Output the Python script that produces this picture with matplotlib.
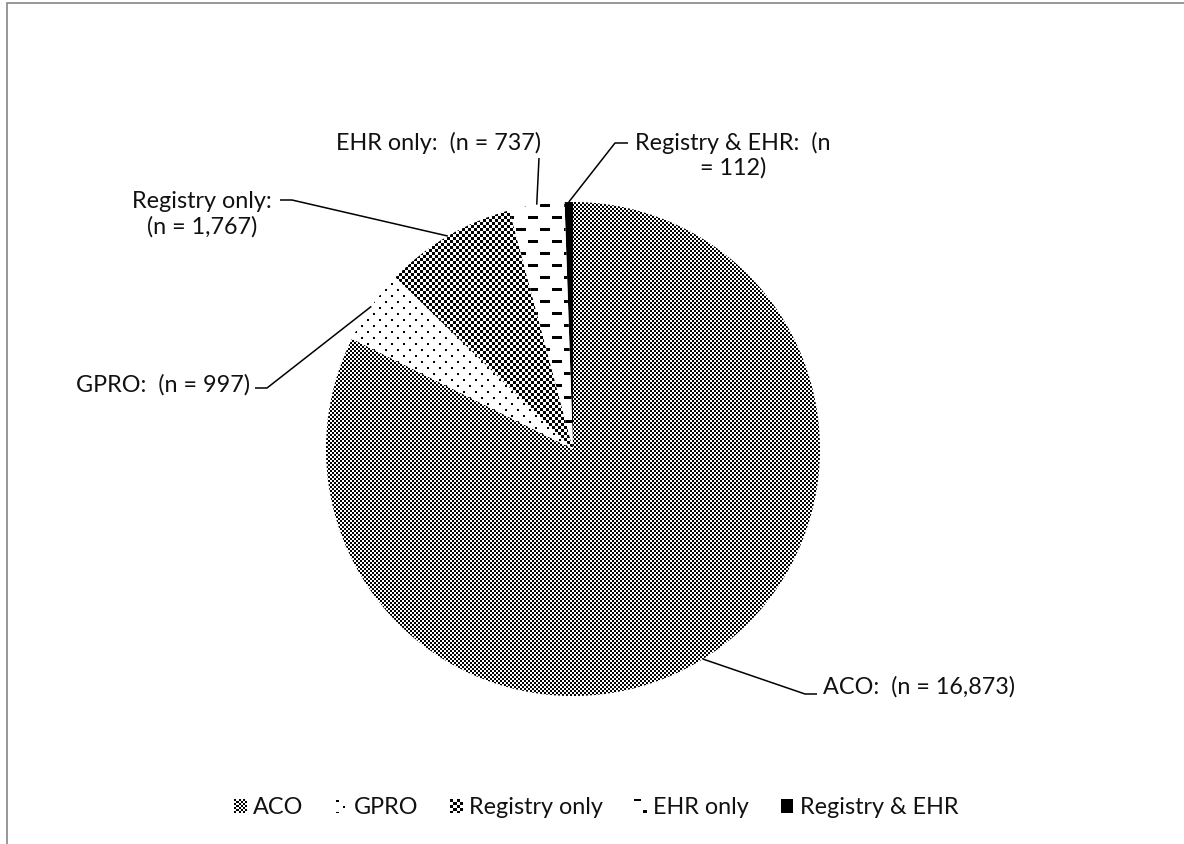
import numpy as np
import matplotlib
matplotlib.use("Agg")
import matplotlib.pyplot as plt
from matplotlib.patches import Rectangle

# Reporting mechanism counts
categories = ["ACO", "GPRO", "Registry only", "EHR only", "Registry & EHR"]
counts = [16873, 997, 1767, 737, 112]
slice_labels = [
    "ACO:  (n = 16,873)",
    "GPRO:  (n = 997)",
    "Registry only:\n(n = 1,767)",
    "EHR only:  (n = 737)",
    "Registry & EHR:  (n\n= 112)",
]

W, H = 1184, 844
FONT = "Lato"
FS = 16.8

fig = plt.figure(figsize=(W / 100, H / 100), dpi=100)
fig.suppressComposite = True
ax = fig.add_axes([0, 0, 1, 1])


def px(x, y):
    """Canvas pixel (origin top-left) -> data coordinates (origin bottom-left)."""
    return x, H - y


# ---- fill patterns (monochrome tiles repeated across the canvas) ----
def tiled(motif, row0=0, col0=0):
    m = np.asarray(motif, dtype=bool)
    reps = (H // m.shape[0] + 2, W // m.shape[1] + 2)
    big = np.tile(m, reps)[:H, :W]
    big = np.roll(big, (row0, col0), axis=(0, 1))
    rgba = np.ones((H, W, 4))
    rgba[big, :3] = 0.0
    return rgba


def checker(n):
    t = np.zeros((2 * n, 2 * n), int)
    t[:n, :n] = 1
    t[n:, n:] = 1
    return t


dots = np.zeros((12, 12), int)
dots[1:3, 1:3] = 1
dots[7:9, 7:9] = 1

dashes = np.zeros((24, 24), int)
dashes[0:3, 0:10] = 1
dashes[12:15, 12:22] = 1

motifs = [checker(2), dots, checker(3), dashes, None]
face = ["white", "white", "white", "white", "black"]
# offset of the tile origin inside each legend swatch
swatch_shift = [(0, 0), (0, 0), (0, 0), (-1, -3), (0, 0)]

# ---- pie ----
cx, cy = px(573, 449)
radius = 247
wedges, _ = ax.pie(counts, startangle=90, counterclock=False,
                   center=(cx, cy), radius=radius, colors=face,
                   wedgeprops=dict(linewidth=0, edgecolor="none"))

for w, motif in zip(wedges, motifs):
    if motif is None:
        continue
    im = ax.imshow(tiled(motif), extent=(0, W, 0, H), origin="upper",
                   interpolation="nearest", aspect="auto", zorder=2)
    im.set_clip_path(w)

# ---- data labels with leader lines ----
text_pos = [(823, 687, "left"), (250, 385, "right"), (202, 214.5, "center"),
            (438, 143, "center"), (733, 155.5, "center")]
elbows = [
    [(805, 694), (817, 694)],
    [(267, 388), (255, 388)],
    [(292, 200), (280, 200)],
    [(539, 158)],
    [(615, 143), (628, 143)],
]

for w, lab, (tx, ty, ha), elb in zip(wedges, slice_labels, text_pos, elbows):
    mid = np.deg2rad(0.5 * (w.theta1 + w.theta2))
    sx = cx + radius * np.cos(mid)
    sy = cy + radius * np.sin(mid)
    xs = [sx] + [px(*p)[0] for p in elb]
    ys = [sy] + [px(*p)[1] for p in elb]
    ax.plot(xs, ys, color="black", lw=1.1, solid_capstyle="butt", zorder=4)
    ax.text(*px(tx, ty), lab, ha=ha, va="center", family=FONT, fontsize=FS,
            color="#111111", linespacing=1.2, multialignment="center", zorder=4)

# ---- legend ----
handles = [Rectangle((0, 0), 1, 1, facecolor=c, edgecolor="none", lw=0) for c in face]
leg = ax.legend(handles, categories, loc="center",
                bbox_to_anchor=(596 / W, 1 - 808 / H), ncol=5, frameon=False,
                handlelength=0.52, handleheight=0.52, handletextpad=0.3,
                columnspacing=1.35, borderpad=0,
                prop=dict(family=FONT, size=FS))
for t in leg.get_texts():
    t.set_color("#111111")

ax.set_xlim(0, W)
ax.set_ylim(0, H)
ax.set_aspect("auto")
ax.axis("off")

# legend swatches get the same fills, anchored at each swatch's top-left corner
fig.canvas.draw()
for patch, motif, (dr, dc) in zip(leg.get_patches(), motifs, swatch_shift):
    if motif is None:
        continue
    bb = patch.get_window_extent()
    row0 = int(round(H - bb.y1)) + dr
    col0 = int(round(bb.x0)) + dc
    im = ax.imshow(tiled(motif, row0, col0), extent=(0, W, 0, H), origin="upper",
                   interpolation="nearest", aspect="auto", zorder=6)
    im.set_clip_path(patch)

# chart-area border
fig.patches.append(Rectangle((6.5 / W, -0.05), 1.2, 1.05 - 2.5 / H,
                             transform=fig.transFigure, fill=False,
                             edgecolor="#868686", lw=1.2, zorder=10))

fig.savefig("out.png", dpi=100, facecolor="white")
